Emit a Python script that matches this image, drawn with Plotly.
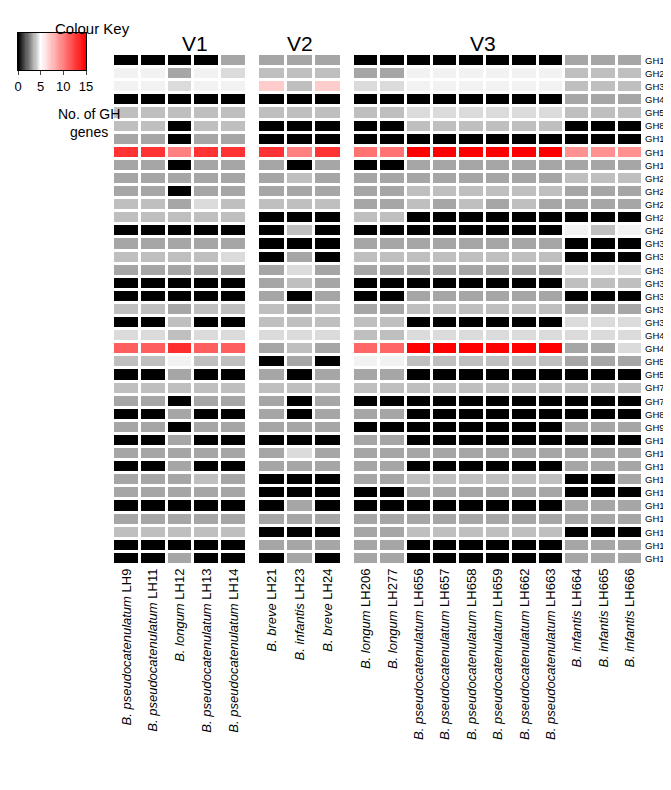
import plotly.graph_objects as go

# value levels (No. of GH genes, read from colour)
K, D, L, V, W = 0, 3.25, 3.75, 4.3, 4.75

gh_families = ["GH1","GH2","GH3","GH4","GH5","GH8","GH10","GH13","GH18","GH20","GH23","GH25","GH27",
               "GH29","GH30","GH31","GH32","GH33","GH35","GH36","GH38","GH42","GH43","GH51","GH53",
               "GH77","GH78","GH85","GH95","GH101","GH109","GH112","GH120","GH121","GH123","GH125",
               "GH127","GH129","GH136"]

v1_strains = ["<i>B. pseudocatenulatum</i> LH9", "<i>B. pseudocatenulatum</i> LH11", "<i>B. longum</i> LH12",
              "<i>B. pseudocatenulatum</i> LH13", "<i>B. pseudocatenulatum</i> LH14"]
v2_strains = ["<i>B. breve</i> LH21", "<i>B. infantis</i> LH23", "<i>B. breve</i> LH24"]
v3_strains = ["<i>B. longum</i> LH206", "<i>B. longum</i> LH277", "<i>B. pseudocatenulatum</i> LH656",
              "<i>B. pseudocatenulatum</i> LH657", "<i>B. pseudocatenulatum</i> LH658",
              "<i>B. pseudocatenulatum</i> LH659", "<i>B. pseudocatenulatum</i> LH662",
              "<i>B. pseudocatenulatum</i> LH663", "<i>B. infantis</i> LH664", "<i>B. infantis</i> LH665",
              "<i>B. infantis</i> LH666"]

v1_values = [
    [K,K,K,K,D],[W,W,D,W,V],[W,W,V,W,W],[K,K,K,K,K],[L,L,L,L,L],[L,L,K,L,L],[D,D,K,D,D],
    [13,13,10,13,13],[D,D,K,D,D],[D,D,D,D,D],[D,D,K,D,D],[L,L,D,V,L],[L,L,L,L,L],
    [K,K,K,K,K],[D,D,D,D,D],[L,L,L,L,V],[D,D,D,D,D],[K,K,K,K,K],[K,K,K,K,K],[L,L,D,L,L],
    [K,K,L,K,K],[V,V,L,V,V],[11.3,11.3,13.2,11.3,11.3],[L,L,W,L,L],[K,K,D,K,K],
    [L,L,L,L,L],[D,D,K,D,D],[K,K,D,K,K],[D,D,K,D,D],[K,K,D,K,K],[D,D,D,D,D],[K,K,D,K,K],
    [D,D,D,L,D],[D,D,D,D,D],[K,K,K,K,K],[D,D,D,D,D],[L,L,L,L,L],[K,K,K,K,K],[K,K,D,K,K]]

v2_values = [
    [D,D,D],[L,L,L],[7,L,7],[K,K,K],[L,L,L],[K,K,K],[K,K,K],[13,10,13],[D,K,D],[D,L,D],
    [D,D,D],[L,L,L],[K,K,K],[K,L,K],[K,K,K],[K,D,K],[D,V,D],[D,L,D],[D,K,D],[L,D,L],
    [L,L,L],[V,V,V],[D,L,D],[K,D,K],[D,K,D],[L,L,L],[D,K,D],[D,K,D],[D,D,D],[K,K,K],
    [D,V,D],[D,D,D],[K,K,K],[K,K,K],[K,D,K],[D,D,D],[K,K,K],[D,D,D],[K,D,K]]

v3_values = [
    [K,K,K,K,K,K,K,K,D,D,D],[D,D,W,W,W,W,W,W,L,L,L],[V,V,W,W,W,W,W,W,L,L,L],
    [K,K,K,K,K,K,K,K,D,D,D],[L,L,V,V,V,V,V,V,L,L,L],[K,K,L,L,L,L,L,L,K,K,K],
    [K,K,K,K,K,K,K,K,K,K,K],[10.5,10.5,15,15,15,15,15,15,9.3,9.3,9.3],
    [K,K,D,D,D,D,D,D,D,D,D],[D,D,D,D,D,D,D,D,L,L,L],[D,D,L,L,L,L,L,L,D,D,D],
    [D,D,L,D,L,D,L,D,D,D,D],[L,L,K,K,K,K,K,K,K,K,K],[K,K,K,K,K,K,K,K,W,L,W],
    [D,D,D,D,D,D,D,D,K,K,K],[L,L,L,L,L,L,L,L,K,K,K],[D,D,D,D,D,D,D,D,V,V,V],
    [K,K,K,K,K,K,K,K,L,L,L],[K,K,D,D,D,D,D,D,K,K,K],[D,D,L,L,L,L,L,L,D,D,D],
    [L,L,K,K,K,K,K,K,V,V,V],[L,L,V,V,V,V,V,V,V,V,V],[11,11,15,15,15,15,15,15,D,D,V],
    [W,W,L,L,L,L,L,L,D,D,D],[D,D,K,K,K,K,K,K,K,K,K],[L,L,L,L,L,L,L,L,L,L,L],
    [K,K,K,K,K,K,K,K,K,K,K],[D,D,K,K,K,K,K,K,K,K,K],[K,K,K,K,K,K,K,K,D,D,D],
    [D,D,K,K,K,K,K,K,K,K,K],[D,D,D,D,D,D,D,D,D,D,D],[D,D,K,K,K,K,K,K,D,D,D],
    [D,D,L,L,L,L,L,L,K,K,D],[K,K,D,D,D,D,D,D,K,K,K],[K,K,K,K,K,K,K,K,D,D,D],
    [D,D,D,D,D,D,D,D,D,D,D],[D,D,L,L,L,L,L,L,K,K,K],[D,D,K,K,K,K,K,K,D,D,D],
    [D,D,K,K,K,K,K,K,D,D,D]]

key_values = [i * 0.25 for i in range(61)]   # colour key gradient 0..15
key_ticks = [0, 5, 10, 15]

scale = [[0, "black"], [1/3, "white"], [1, "red"]]
W_, H_ = 671, 790

fig = go.Figure()
common = dict(zmin=0, zmax=15, colorscale=scale, xgap=3, ygap=3, y=gh_families, showscale=False)
fig.add_trace(go.Heatmap(z=v1_values, x=v1_strains, xaxis="x", yaxis="y", **common))
fig.add_trace(go.Heatmap(z=v2_values, x=v2_strains, xaxis="x2", yaxis="y", **common))
fig.add_trace(go.Heatmap(z=v3_values, x=v3_strains, xaxis="x3", yaxis="y", **common))
fig.add_trace(go.Heatmap(z=[key_values], x=key_values, xaxis="x4", yaxis="y4", zmin=0, zmax=15,
                         colorscale=scale, showscale=False, hoverinfo="skip"))

ydom = [1-557/H_, 1-46/H_]
xa = dict(tickangle=-90, showgrid=False, zeroline=False, showline=False, ticks="", automargin=False,
          tickfont=dict(family="Liberation Sans", size=13, color="black"), anchor="y")
fig.update_layout(
    width=W_, height=H_, margin=dict(l=0, r=0, t=0, b=0),
    plot_bgcolor="white", paper_bgcolor="white",
    font=dict(family="Liberation Sans", color="black"),
    xaxis=dict(domain=[105/W_, 239/W_], **xa),
    xaxis2=dict(domain=[250/W_, 334/W_], **xa),
    xaxis3=dict(domain=[345/W_, 635/W_], **xa),
    yaxis=dict(domain=ydom, anchor="x3", side="right", autorange="reversed", showgrid=False,
               zeroline=False, ticks="", automargin=False, tickfont=dict(size=9.5, color="black"),
               ticklabelstandoff=1),
    xaxis4=dict(domain=[10/W_, 78/W_], anchor="y4", range=[0, 15], tickvals=key_ticks, ticks="outside",
                ticklen=4, showline=True, mirror=True, linecolor="black", linewidth=1, showgrid=False,
                zeroline=False, automargin=False, tickfont=dict(size=13, color="black")),
    yaxis4=dict(domain=[1-62/H_, 1-25/H_], anchor="x4", showticklabels=False, showline=True, mirror=True,
                linecolor="black", linewidth=1, showgrid=False, zeroline=False, automargin=False),
    annotations=[
        dict(text="V1", x=172/W_, y=1-22/H_, xref="paper", yref="paper", showarrow=False, font=dict(size=21)),
        dict(text="V2", x=292/W_, y=1-22/H_, xref="paper", yref="paper", showarrow=False, font=dict(size=21)),
        dict(text="V3", x=490/W_, y=1-22/H_, xref="paper", yref="paper", showarrow=False, font=dict(size=21)),
        dict(text="Colour Key", x=45/W_, y=1-10/H_, xref="paper", yref="paper", showarrow=False,
             font=dict(size=15)),
        dict(text="No. of GH<br>genes", x=48/W_, y=1-96/H_, xref="paper", yref="paper", showarrow=False,
             font=dict(size=14)),
    ],
)
fig.write_html("out.html")
